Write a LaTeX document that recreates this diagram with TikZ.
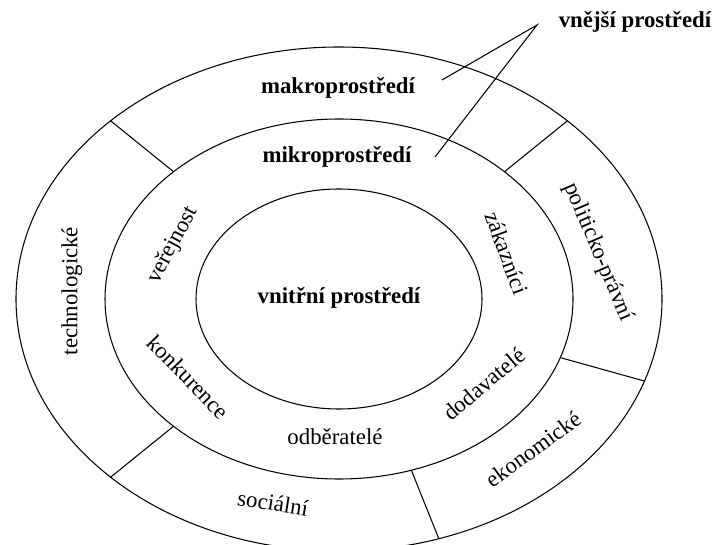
\documentclass[tikz,border=0pt]{standalone}
\usepackage{fontspec}
\setmainfont{Liberation Serif}
\usetikzlibrary{calc}

\begin{document}
\begin{tikzpicture}[
        x=0.02cm, y=0.02cm,
        font=\fontsize{13}{15}\selectfont,
        ring/.style={draw, line width=0.6pt},
        divider/.style={line width=0.6pt},
        callout/.style={line width=0.6pt},
        title/.style={font=\fontsize{13}{15}\selectfont\bfseries, inner sep=1pt},
        factor/.style={inner sep=1pt}
    ]
        \useasboundingbox (0,0) rectangle (715,544);
        \coordinate (c) at (339,245);

        \draw[ring] (c) ellipse [x radius=323, y radius=252];
        \draw[ring] (c) ellipse [x radius=234, y radius=180];
        \draw[ring] (c) ellipse [x radius=143, y radius=110];
        \foreach \a in {45,135,225,-19,-72}
            \draw[divider] ($(c)+(\a:234 and 180)$) -- ($(c)+(\a:323 and 252)$);

        \node[title] (inner) at (339,246) {vnitřní prostředí};
        \node[title] (micro) at (337,387) {mikroprostředí};
        \node[title] (macro) at (338,456) {makroprostředí};
        \node[title] (outer) at (635,522) {vnější prostředí};

        \node[factor, rotate=62] (public) at (173,299) {veřejnost};
        \node[factor, rotate=-46] (rivals) at (188,167) {konkurence};
        \node[factor] (buyers) at (335,107) {odběratelé};
        \node[factor, rotate=40] (suppliers) at (484,160) {dodavatelé};
        \node[factor, rotate=-70] (customers) at (507,291) {zákazníci};

        \node[factor, rotate=90] (tech) at (72,253) {technologické};
        \node[factor, rotate=-9] (social) at (273,41) {sociální};
        \node[factor, rotate=36] (econ) at (533,95) {ekonomické};
        \node[factor, rotate=-67] (politic) at (598,292) {politicko-právní};

        \coordinate (apex) at (537,519);
        \coordinate (macro-tip) at (442,464);
        \coordinate (micro-tip) at (435,387);
        \draw[callout] (macro-tip) -- (apex) -- (micro-tip);
    \end{tikzpicture}
\end{document}
